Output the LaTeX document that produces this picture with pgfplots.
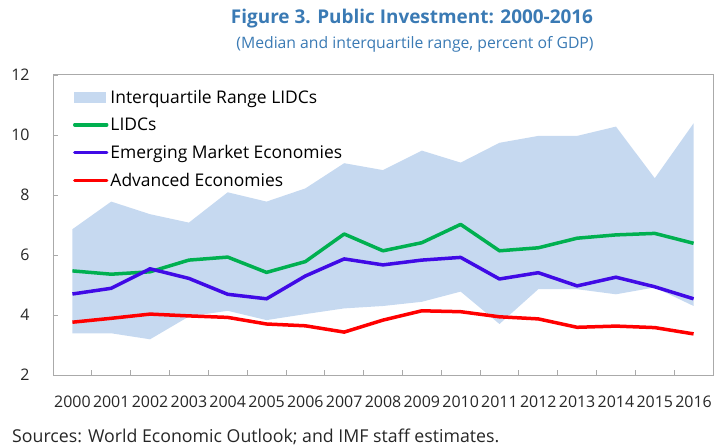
\documentclass[border=0pt]{standalone}
\usepackage{fontspec}
\setmainfont{Open Sans}
\usepackage{pgfplots}
\pgfplotsset{compat=1.18}
\definecolor{band}{RGB}{198,217,240}
\definecolor{lidc}{RGB}{0,176,80}
\definecolor{eme}{RGB}{64,10,230}
\definecolor{ae}{RGB}{255,0,0}
\definecolor{ttl}{RGB}{58,122,180}
\definecolor{frame}{RGB}{170,170,170}
\begin{document}
\begin{tikzpicture}
\begin{axis}[
  at={(53bp,71bp)}, anchor=south west,
  width=660bp, height=300bp, scale only axis,
  xmin=-0.5, xmax=16.5, ymin=2, ymax=12,
  xtick={0,...,16},
  xticklabels={2000,2001,2002,2003,2004,2005,2006,2007,2008,2009,2010,2011,2012,2013,2014,2015,2016},
  minor xtick={0.5,1.5,...,15.5},
  ytick={2,4,...,12},
  major x tick style={draw=none},
  minor tick length=5bp, major tick length=5bp,
  tick style={frame, line width=0.8bp},
  tick align=inside,
  xtick pos=bottom, ytick pos=left,
  axis line style={frame, line width=1bp},
  /pgf/number format/assume math mode=true,
  ticklabel style={font=\fontsize{16}{19}\selectfont, text=black!85},
  xticklabel style={yshift=-17bp},
  yticklabel style={xshift=-20bp},
  legend cell align=left,
  legend style={draw=none, fill=none, at={(0.03,0.958)}, anchor=north west,
    font=\fontsize{17.5}{20}\selectfont, row sep=9.2bp, inner sep=0pt,
    /tikz/every even column/.append style={column sep=2bp}},
]
% interquartile band: upper edge left to right, then lower edge right to left
\addplot[fill=band, draw=none,
  legend image code/.code={\fill[band] (0bp,-5.5bp) rectangle (32bp,5.5bp);}]
  coordinates {
(0,6.86)(1,7.78)(2,7.36)(3,7.08)(4,8.09)(5,7.78)(6,8.22)(7,9.06)(8,8.83)
(9,9.48)(10,9.08)(11,9.74)(12,9.97)(13,9.97)(14,10.28)(15,8.56)(16,10.39)
(16,4.30)(15,4.92)(14,4.69)(13,4.86)(12,4.86)(11,3.70)(10,4.78)(9,4.44)
(8,4.30)(7,4.22)(6,4.03)(5,3.83)(4,4.14)(3,3.95)(2,3.19)(1,3.39)(0,3.39)} -- cycle;
\addlegendentry{Interquartile Range LIDCs}
\addplot[lidc, line width=3.5bp, line join=round,
  legend image code/.code={\draw[lidc, line width=3.5bp, line cap=round] (1bp,0bp) -- (33bp,0bp);}]
  coordinates {
(0,5.47)(1,5.36)(2,5.44)(3,5.83)(4,5.93)(5,5.42)(6,5.78)(7,6.70)(8,6.14)
(9,6.41)(10,7.02)(11,6.14)(12,6.24)(13,6.56)(14,6.67)(15,6.72)(16,6.39)};
\addlegendentry{LIDCs}
\addplot[eme, line width=3.5bp, line join=round,
  legend image code/.code={\draw[eme, line width=3.5bp, line cap=round] (1bp,0bp) -- (33bp,0bp);}]
  coordinates {
(0,4.70)(1,4.89)(2,5.54)(3,5.22)(4,4.69)(5,4.54)(6,5.30)(7,5.87)(8,5.67)
(9,5.83)(10,5.92)(11,5.20)(12,5.41)(13,4.97)(14,5.26)(15,4.94)(16,4.54)};
\addlegendentry{Emerging Market Economies}
\addplot[ae, line width=3.5bp, line join=round,
  legend image code/.code={\draw[ae, line width=3.5bp, line cap=round] (1bp,0bp) -- (33bp,0bp);}]
  coordinates {
(0,3.76)(1,3.89)(2,4.03)(3,3.97)(4,3.92)(5,3.70)(6,3.64)(7,3.43)(8,3.83)
(9,4.14)(10,4.11)(11,3.94)(12,3.87)(13,3.59)(14,3.63)(15,3.58)(16,3.37)};
\addlegendentry{Advanced Economies}
\end{axis}
\node[text=ttl, font=\fontsize{19}{22}\selectfont\bfseries] at (412bp,427bp) {Figure 3. Public Investment: 2000-2016};
\node[text=ttl, font=\fontsize{15.8}{19}\selectfont] at (415bp,402bp) {(Median and interquartile range, percent of GDP)};
\node[anchor=west, inner sep=0pt, text=black!85, font=\fontsize{17.8}{20}\selectfont] at (12bp,9bp) {Sources: World Economic Outlook; and IMF staff estimates.};
\useasboundingbox (0bp,0bp) rectangle (717bp,446bp);
\end{tikzpicture}
\end{document}
